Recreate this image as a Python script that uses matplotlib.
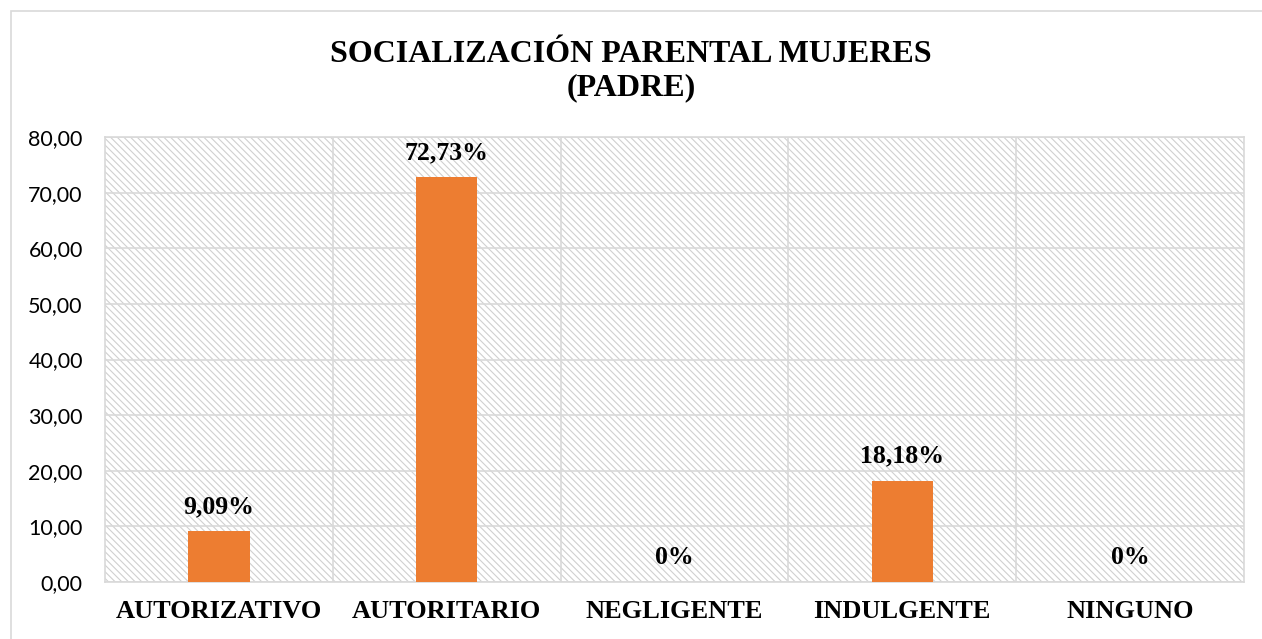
import matplotlib.pyplot as plt
from matplotlib.patches import Rectangle

categories = ['AUTORIZATIVO', 'AUTORITARIO', 'NEGLIGENTE', 'INDULGENTE', 'NINGUNO']
values = [9.09, 72.73, 0, 18.18, 0]
labels = ['9,09%', '72,73%', '0%', '18,18%', '0%']
yticks = [0, 10, 20, 30, 40, 50, 60, 70, 80]

plt.rcParams['hatch.color'] = '#d0d0d0'
plt.rcParams['hatch.linewidth'] = 0.8

fig = plt.figure(figsize=(12.62, 6.39), dpi=100)
ax = fig.add_axes([0.0832, 0.0892, 0.9025, 0.6964])

# outer chart frame
fig.patches.append(Rectangle((11 / 1262, -0.01), 1.1, 1 - 11 / 639 + 0.01,
                             transform=fig.transFigure, fill=False,
                             edgecolor='#d9d9d9', linewidth=1.2))

# hatched background of the plot area
ax.add_patch(Rectangle((0, 0), 1, 1, transform=ax.transAxes, facecolor='white',
                       hatch='\\\\\\\\\\', edgecolor='#d0d0d0', linewidth=0, zorder=0))

x = range(len(categories))
ax.bar(x, values, width=0.27, color='#ed7d31', zorder=3)

for i, (v, lab) in enumerate(zip(values, labels)):
    ax.annotate(lab, (i, v), xytext=(0, 18), textcoords='offset points',
                ha='center', va='center', fontsize=18.5, fontweight='bold',
                family='Liberation Serif', zorder=4)

ax.set_xlim(-0.5, len(categories) - 0.5)
ax.set_ylim(0, 80)
ax.set_yticks(yticks)
ax.set_yticklabels(['%d,00' % t for t in yticks], fontsize=15.5, family='Lato')
ax.set_xticks(list(x))
ax.set_xticklabels(categories, fontsize=19, fontweight='bold', family='Liberation Serif')
ax.tick_params(axis='both', length=0)
ax.tick_params(axis='x', pad=13)
ax.tick_params(axis='y', pad=16)

for y in yticks:
    ax.axhline(y, color='#d9d9d9', linewidth=1.2, zorder=1)
for b in [0.5, 1.5, 2.5, 3.5]:
    ax.axvline(b, color='#d9d9d9', linewidth=1.2, zorder=1)
for s in ax.spines.values():
    s.set_color('#d9d9d9')
    s.set_linewidth(1.2)

fig.text(0.5, 1 - 71 / 639, 'SOCIALIZACIÓN PARENTAL MUJERES\n(PADRE)', ha='center',
         va='center', fontsize=23, fontweight='bold', family='Liberation Serif',
         linespacing=1.22)

plt.savefig('out.png')
plt.close()
